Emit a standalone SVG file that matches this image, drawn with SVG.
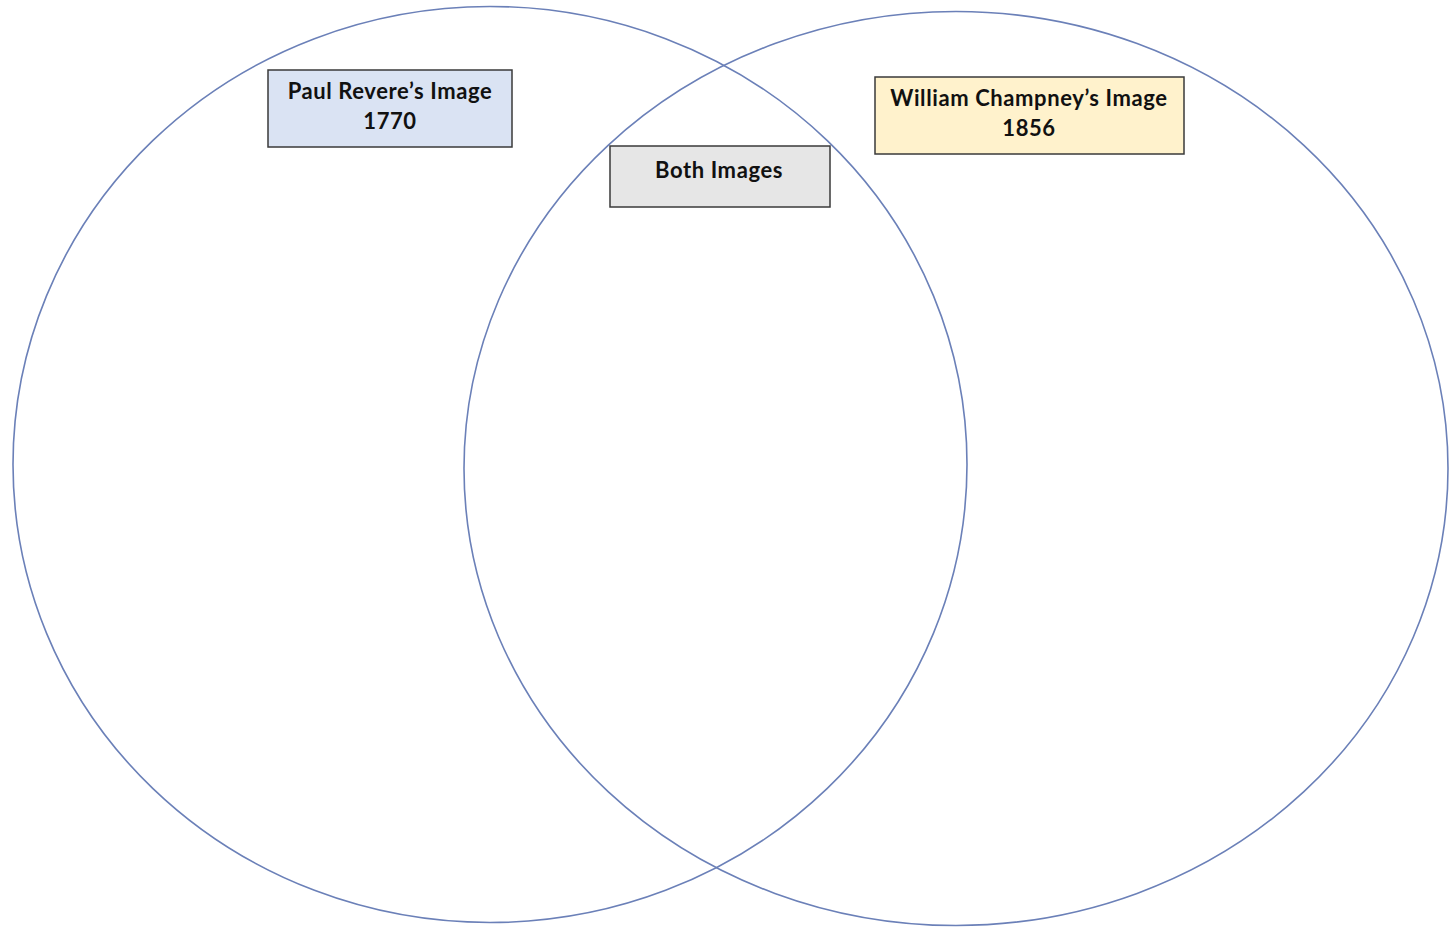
<svg xmlns="http://www.w3.org/2000/svg" width="1455" height="928" viewBox="0 0 1455 928">
<style>
.circ{fill:none;stroke:#6b80b8;stroke-width:1.6}
.box{stroke:#3a3a3a;stroke-width:1.5}
.lbl{font-family:Lato,"Liberation Sans",sans-serif;font-weight:bold;font-size:22px;letter-spacing:0.6px;fill:#111;text-anchor:middle}
</style>
<rect width="1455" height="928" fill="#fff"/>
<g id="circle-left"><ellipse class="circ" cx="490" cy="464.5" rx="477" ry="458"/></g>
<g id="circle-right"><ellipse class="circ" cx="956" cy="468.5" rx="492" ry="457"/></g>
<g id="connectors"></g>
<g id="node-revere">
<rect class="box" x="268" y="70" width="244" height="77" fill="#dae3f3"/>
<text class="lbl" x="390" y="99">Paul Revere’s Image</text>
<text class="lbl" x="390" y="129">1770</text>
</g>
<g id="node-both">
<rect class="box" x="610" y="146" width="220" height="61" fill="#e6e6e6"/>
<text class="lbl" x="719" y="178">Both Images</text>
</g>
<g id="node-champney">
<rect class="box" x="875" y="77" width="309" height="77" fill="#fff2cc"/>
<text class="lbl" x="1029" y="106">William Champney’s Image</text>
<text class="lbl" x="1029" y="136">1856</text>
</g>
</svg>
